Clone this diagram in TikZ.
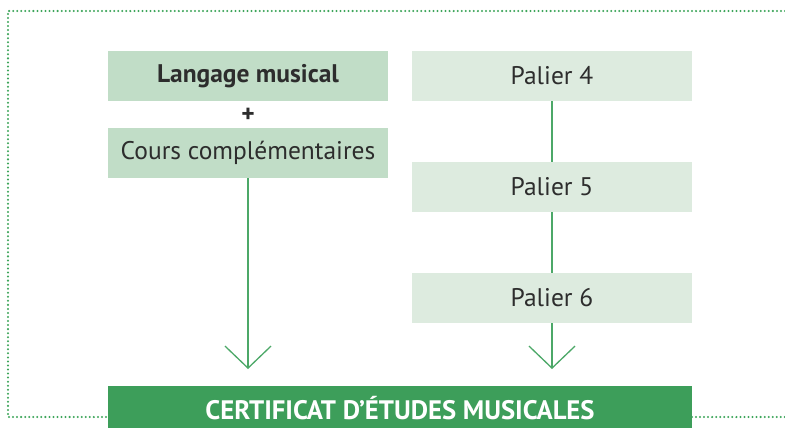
\documentclass[tikz,border=0pt]{standalone}
\usepackage{fontspec}
\setmainfont{PT Sans}
\usetikzlibrary{arrows.meta}
\definecolor{palecolor}{RGB}{193, 221, 199}
\definecolor{lightcolor}{RGB}{221, 235, 223}
\definecolor{certcolor}{RGB}{61, 158, 90}
\definecolor{linecolor}{RGB}{76, 168, 104}
\definecolor{framecolor}{RGB}{61, 165, 90}
\definecolor{textcolor}{RGB}{45, 45, 45}
\tikzset{
blocktext/.style={
  align=center,
  font=\fontsize{14.5}{17}\selectfont,
  text=textcolor
},
block/.style={
  rectangle,
  draw=none,
  minimum width=5.6cm,
  minimum height=1cm,
  inner sep=0pt,
  blocktext
},
courseblock/.style={block, fill=palecolor},
palierblock/.style={block, fill=lightcolor},
certblock/.style={
  rectangle,
  draw=none,
  fill=certcolor,
  minimum width=11.68cm,
  minimum height=0.9cm,
  inner sep=0pt,
  text=white,
  font=\fontsize{15.2}{18}\selectfont\bfseries
},
link/.style={line width=0.75pt, draw=linecolor},
arrow/.style={link, -{Straight Barb[length=0.44cm,width=0.92cm,line width=0.75pt]}},
frame/.style={draw=framecolor, line width=1.3pt, line cap=round, dash pattern=on 0pt off 2.3pt}
}

\begin{document}
\begin{tikzpicture}[x=0.02cm, y=-0.02cm]
\useasboundingbox (0,0) rectangle (785,427);

% cadre pointille
\draw[frame] (785,11) -- (8,11) -- (8,417) -- (785,417);

% colonne de gauche
\node[courseblock, font=\fontsize{14.5}{17}\selectfont\bfseries] (langage) at (248,76) {Langage musical};
\node[blocktext, font=\fontsize{14.5}{17}\selectfont\bfseries] (plus) at (248,115) {+};
\node[courseblock] (cours) at (248,153) {Cours complémentaires};

% colonne de droite
\node[palierblock] (palier4) at (552,76) {Palier 4};
\node[palierblock] (palier5) at (552,187) {Palier 5};
\node[palierblock] (palier6) at (552,298) {Palier 6};

% certificat
\node[certblock] (cert) at (400,408) {CERTIFICAT D’ÉTUDES MUSICALES};
\coordinate (tipleft) at (248,369);
\coordinate (tipright) at (552,369);

\draw[arrow] (cours.south) -- (tipleft);
\draw[link] (palier4) -- (palier5);
\draw[link] (palier5) -- (palier6);
\draw[arrow] (palier6.south) -- (tipright);

\end{tikzpicture}
\end{document}
